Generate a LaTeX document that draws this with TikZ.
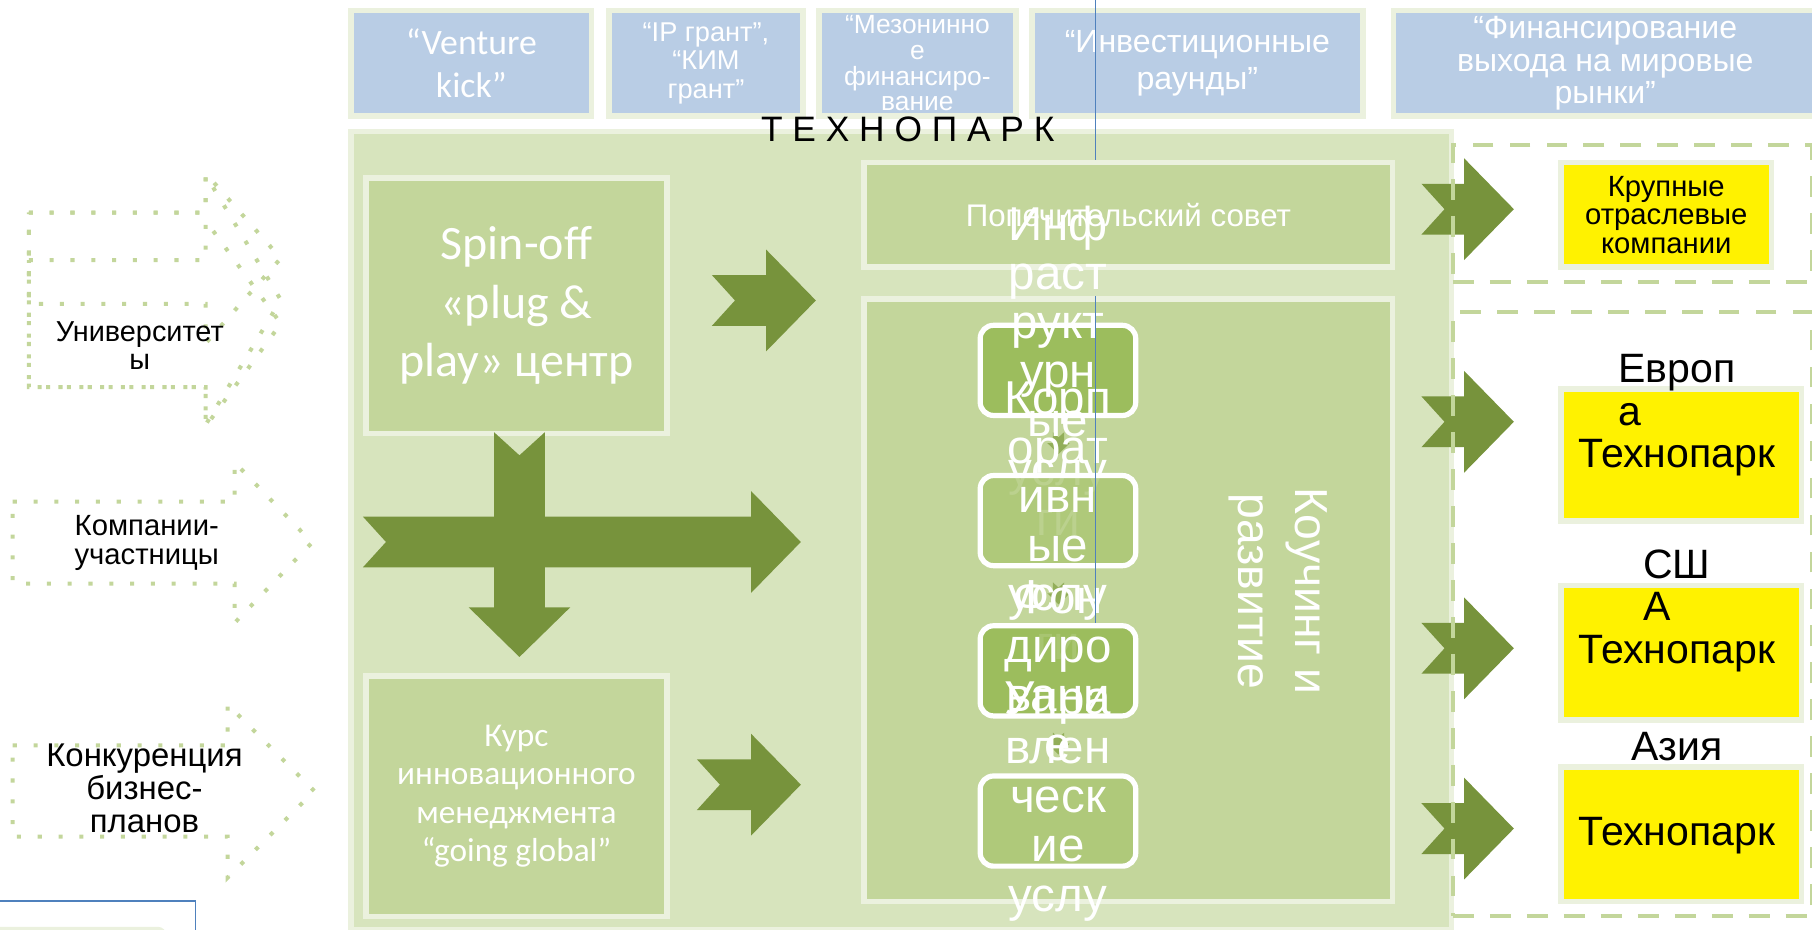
\documentclass[tikz,border=0pt]{standalone}
\usepackage{fontspec}
\setmainfont{Liberation Sans}
\newfontfamily\calibri{Carlito}
\usepackage{tikz}
\usetikzlibrary{calc, positioning, arrows.meta, shapes.geometric, fit}

\definecolor{parkGreen}{HTML}{D7E4BD}
\definecolor{boxGreen}{HTML}{C3D69B}
\definecolor{frameGreen}{HTML}{EBF1DE}
\definecolor{fundBlue}{HTML}{B9CDE5}
\definecolor{arrowGreen}{HTML}{77933C}
\definecolor{srvDark}{HTML}{93B74E}
\definecolor{srvLight}{HTML}{AAC672}
\definecolor{miniGreen}{HTML}{8AA84E}
\definecolor{lineBlue}{HTML}{4F81BD}

\newcommand{\fsz}[2]{\fontsize{#1}{#2}\selectfont}

\tikzset{
    panel/.style={rectangle, draw=frameGreen, line width=0.48mm, fill=boxGreen, anchor=north west, inner sep=0pt, align=center, text=white},
    fund/.style={panel, fill=fundBlue, minimum height=9.12mm},
    partner/.style={panel, fill=yellow, text=black},
    service/.style={rectangle, rounded corners=1.15mm, draw=white, line width=0.45mm, fill opacity=0.8, minimum width=13.46mm, minimum height=7.8mm},
    srvText/.style={text=white, align=center, inner sep=0pt, font=\fsz{11.7}{12.1}},
    region/.style={rectangle, draw=boxGreen, line width=0.35mm, dash pattern=on 1.8mm off 1.4mm, anchor=north west, minimum width=31.05mm},
    regionText/.style={align=center, inner sep=0pt, font=\fsz{10.1}{10.5}},
    source/.style={draw=boxGreen, line width=0.35mm, dash pattern=on 0.35mm off 1.45mm},
    srcLabel/.style={align=center, inner sep=0pt},
    guide/.style={draw=lineBlue, line width=0.13mm},
    flowFill/.style={fill=arrowGreen},
    pics/flowarrow/.style={code={
        \fill[flowFill] (0,-22) -- (#1-43,-22) -- (#1-43,-44) -- (#1,0) -- (#1-43,44) -- (#1-43,22) -- (0,22) -- (20,0) -- cycle;
    }},
    pics/inflow/.style args={#1/#2/#3/#4}{code={
        \draw[source] (0,-#3) -- (#1,-#3) -- (#1,-#4) -- (#1+#2,0) -- (#1,#4) -- (#1,#3) -- (0,#3) -- cycle;
    }}
}

\begin{document}
\begin{tikzpicture}[x=0.1mm, y=-0.1mm]
    \useasboundingbox (0,0) rectangle (1568,804);
    \clip (0,0) rectangle (1568,804);

    % Funding stages
    \node[fund, minimum width=20.8mm, font=\calibri\fsz{8.8}{10.5}] (kick) at (301.5,6.8) {“Venture\\kick”};
    \node[fund, minimum width=16.82mm, font=\fsz{6.7}{7}] (grant) at (524.4,6.8) {“IP грант”,\\“КИМ\\грант”};
    \node[fund, minimum width=17.02mm, font=\fsz{6.5}{6.3}] (mezz) at (706.4,6.8) {“Мезонинно\\е\\финансиро-\\вание};
    \node[fund, minimum width=28.66mm, font=\fsz{7.9}{9.1}] (rounds) at (890.4,6.8) {“Инвестиционные\\раунды”};
    \node[fund, minimum width=36.66mm, font=\fsz{7.9}{8}] (exit) at (1203.4,6.8) {“Финансирование\\выхода на мировые\\рынки”};

    % Technopark
    \node[panel, fill=parkGreen, minimum width=95.22mm, minimum height=69.06mm] (park) at (301.4,111.4) {};
    \node[inner sep=0pt, font=\fsz{8.7}{9}] (parkTitle) at (785.5,112) {Т Е Х Н О П А Р К};
    \coordinate (guideTop) at (948,0);
    \draw[guide] (guideTop) -- (guideTop |- 0,180);

    \node[panel, minimum width=45.72mm, minimum height=9.02mm, font=\fsz{7.7}{8}] (board) at (745.4,138.4) {Попечительский совет};
    \node[panel, minimum width=45.72mm, minimum height=52.12mm] (coach) at (745.4,256.4) {};
    \node[rotate=-90, text=white, align=center, inner sep=0pt, font=\fsz{11.4}{14.2}] (coachText) at (1106,511.5) {Коучинг и\\развитие};

    % Services
    \begin{scope}[flowFill/.style={fill=miniGreen, fill opacity=0.85}]
        \pic[rotate=-90, scale=0.22] at (916,374) {flowarrow=86};
        \pic[rotate=-90, scale=0.22] at (916,504) {flowarrow=86};
        \pic[rotate=-90, scale=0.22] at (916,634) {flowarrow=86};
    \end{scope}
    \node[service, fill=srvDark] (infra) at (915.5,320.5) {};
    \node[srvText] (infraText) at (infra) {Инф\\раст\\рукт\\урн\\ые\\услу\\ги};
    \node[service, fill=srvLight] (corp) at (915.5,450.5) {};
    \node[srvText] (corpText) at (corp) {Корп\\орат\\ивн\\ые\\услу\\ги};
    \node[service, fill=srvDark] (fund) at (915.5,580.5) {};
    \node[srvText] (fundText) at (fund) {Фон\\диро\\вани\\е};
    \node[service, fill=srvLight] (mgmt) at (915.5,710.5) {};
    \node[srvText] (mgmtText) at (mgmt) {Упра\\влен\\ческ\\ие\\услу\\ги};
    \draw[guide] (guideTop |- coach.north) -- (guideTop |- fund.north);

    % Spin-off and course
    \node[panel, minimum width=26.02mm, minimum height=22.12mm, font=\calibri\fsz{11.8}{14.4}] (spin) at (314.4,151.4) {Spin-off\\«plug \&\\play» центр};
    \node[panel, minimum width=26.02mm, minimum height=20.82mm, font=\calibri\fsz{8.2}{9.4}] (course) at (314.4,582.4) {Курс\\инновационного\\менеджмента\\“going global”};

    \pic at (616,260) {flowarrow=90};
    \pic at (603,679) {flowarrow=90};
    \pic at (314,469) {flowarrow=379};
    \pic[rotate=-90] at (449.5,374) {flowarrow=194.5};

    % Way out
    \pic at (1230,181) {flowarrow=80};
    \pic at (1230,365) {flowarrow=80};
    \pic at (1230,561) {flowarrow=80};
    \pic at (1230,717) {flowarrow=80};

    \node[partner, minimum width=18.22mm, minimum height=9.02mm, font=\fsz{7.2}{7}] (majors) at (1348.4,138.4) {Крупные\\отраслевые\\компании};
    \node[partner, minimum width=20.82mm, minimum height=11.42mm] (europe) at (1348.4,334.4) {};
    \node[regionText] (europeText) at (1451,359.5) {Европ\\\rlap{а}\phantom{Европ}\\Технопарк};
    \node[partner, minimum width=20.82mm, minimum height=11.62mm] (usa) at (1348.4,504.4) {};
    \node[regionText] (usaText) at (1451,528.5) {СШ\\\rlap{А}\phantom{СШ}\\Технопарк};
    \node[partner, minimum width=20.82mm, minimum height=11.62mm] (asia) at (1348.4,661.4) {};
    \node[regionText] (asiaText) at (1451,686.5) {Азия\\\mbox{}\\Технопарк};

    \node[region, minimum height=11.8mm] (majorsZone) at (1255.5,124) {};
    \node[region, minimum height=52.3mm] (globalZone) at (1255.5,268) {};

    % Sources
    \pic at (25,259.5) {inflow=153/65/75.5/108};
    \pic at (25,223.5) {inflow=153/65/39.5/73.5};
    \pic at (25,280) {inflow=153/65/55/89};
    \pic at (11,469.5) {inflow=192/67/35.5/69.5};
    \pic at (11,684.5) {inflow=186/75/39.5/75};

    \node[srcLabel, font=\fsz{7.1}{7.1}] (uniLabel) at (121,299) {Университет\\ы};
    \node[srcLabel, font=\fsz{7.2}{7}] (compLabel) at (127,470) {Компании-\\участницы};
    \node[srcLabel, font=\fsz{8.1}{8.1}] (contestLabel) at (125,682) {Конкуренция\\бизнес-\\планов};

    % Note
    \node[draw=lineBlue, line width=0.15mm, anchor=north east, minimum width=19mm, minimum height=5mm] (note) at (170,779) {};
    \node[draw=frameGreen, line width=0.3mm, rounded corners=0.6mm, anchor=north east, minimum width=16mm, minimum height=3mm] (noteInner) at (144,802) {};
\end{tikzpicture}
\end{document}
